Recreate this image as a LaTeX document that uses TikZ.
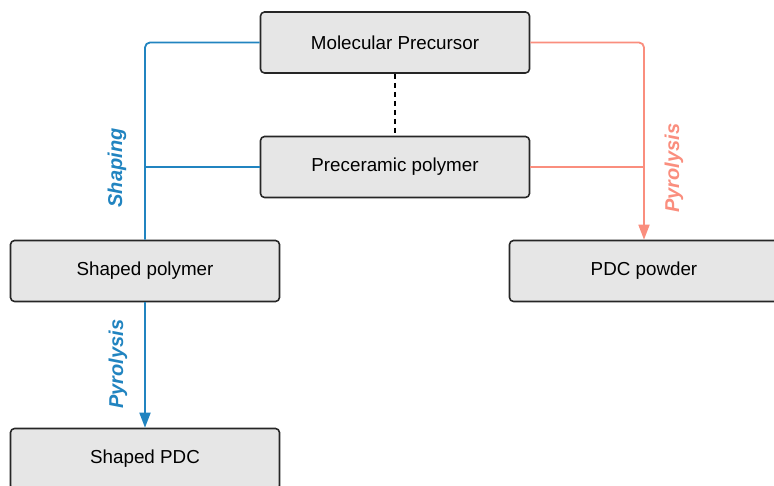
\documentclass[tikz,border=0pt]{standalone}
\usepackage{fontspec}
\setmainfont{Liberation Sans}
\usetikzlibrary{arrows.meta}
\definecolor{shapeblue}{RGB}{33,132,192}
\definecolor{pyrored}{RGB}{250,142,126}
\definecolor{boxgray}{RGB}{230,230,230}
\begin{document}
\begin{tikzpicture}[x=1pt, y=-1pt, line join=round,
	box/.style={draw=black!85, fill=boxgray, rounded corners=4pt, line width=1.6pt,
		minimum width=269pt, minimum height=61pt, font=\fontsize{18.8}{22}\selectfont},
	blueline/.style={draw=shapeblue, line width=1.8pt},
	redline/.style={draw=pyrored, line width=1.8pt},
	steplabel/.style={rotate=90, font=\fontsize{20}{24}\selectfont\bfseries\itshape},
	>={Triangle[length=15pt,width=11pt]}]
	\useasboundingbox (0,0) rectangle (774,486);
	% boxes
	\node[box] (mp) at (395,42.5) {Molecular Precursor};
	\node[box] (pp) at (395,167) {Preceramic polymer};
	\node[box] (sp) at (145,271) {Shaped polymer};
	\node[box] (pdc) at (644,271) {PDC powder};
	\node[box] (spdc) at (145,459) {Shaped PDC};
	% shaping branch
	\draw[blueline, rounded corners=5pt] (mp.west) -| (sp.north);
	\draw[blueline] (pp.west) -- (pp.west -| sp.north);
	\node[steplabel, text=shapeblue] (shaping) at (117,168) {Shaping};
	\draw[blueline, ->] (sp.south) -- (spdc.north);
	\node[steplabel, text=shapeblue] (pyroleft) at (118,364) {Pyrolysis};
	% pyrolysis branch
	\draw[redline, rounded corners=5pt, ->] (mp.east) -| (pdc.north);
	\draw[redline] (pp.east) -- (pp.east -| pdc.north);
	\node[steplabel, text=pyrored] (pyroright) at (674,168) {Pyrolysis};
	% link
	\draw[line width=1.5pt, dash pattern=on 5pt off 4pt] (mp.south) -- (pp.north);
\end{tikzpicture}
\end{document}
